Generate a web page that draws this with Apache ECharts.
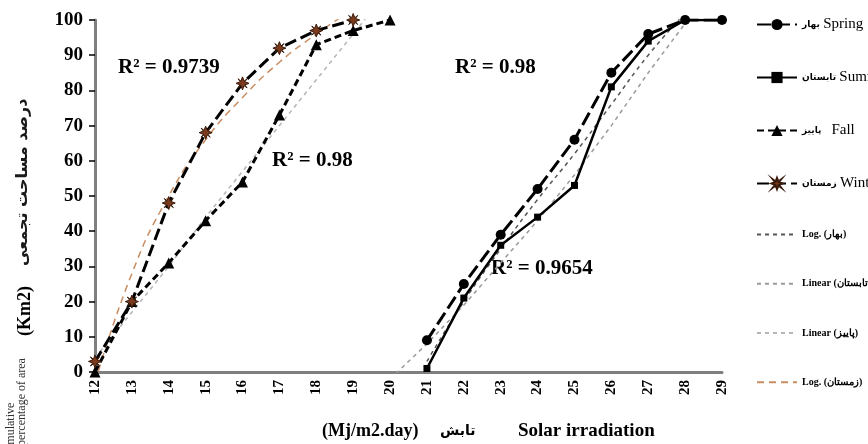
<!DOCTYPE html>
<html>
<head>
<meta charset="utf-8">
<script src="https://cdn.jsdelivr.net/npm/echarts@6/dist/echarts.min.js"></script>
<style>
  html, body { margin: 0; padding: 0; background: #fff; }
  #chart { width: 868px; height: 444px; }
</style>
</head>
<body>
<div id="chart"></div>
<script>
  // x = solar irradiation (Mj/m2.day), y = cumulative % of area
  const xTicks = [12, 13, 14, 15, 16, 17, 18, 19, 20, 21, 22, 23, 24, 25, 26, 27, 28, 29];

  const springX = [21, 22, 23, 24, 25, 26, 27, 28, 29];
  const springY = [9, 25, 39, 52, 66, 85, 96, 100, 100];
  const summerX = [21, 22, 23, 24, 25, 26, 27, 28, 29];
  const summerY = [1, 21, 36, 44, 53, 81, 94, 100, 100];
  const fallX = [12, 13, 14, 15, 16, 17, 18, 19, 20];
  const fallY = [0, 20, 31, 43, 54, 73, 93, 97, 100];
  const winterX = [12, 13, 14, 15, 16, 17, 18, 19];
  const winterY = [3, 20, 48, 68, 82, 92, 97, 100];

  // trend lines
  const logSpringX = [21, 22, 23, 24, 25, 26, 27, 28];
  const logSpringY = [3, 20, 35, 49, 62, 76, 90, 102];
  const linSummerX = [20, 21, 22, 23, 24, 25, 26, 27, 28];
  const linSummerY = [-2, 8, 19, 31, 43, 56, 70, 85, 99];
  const linFallX = [12, 13, 14, 15, 16, 17, 18, 19, 20];
  const linFallY = [4, 17, 30, 44, 57, 70, 83, 96, 109];
  const logWinterX = [12, 13, 14, 15, 16, 17, 18, 19];
  const logWinterY = [-3, 28, 50, 66, 78, 88, 96, 103];

  const r2Labels = ['R² = 0.9739', 'R² = 0.98', 'R² = 0.98', 'R² = 0.9654'];

  function pairs(xs, ys) {
    return xs.map(function (x, i) { return [x, ys[i]]; });
  }

  const serif = '"Liberation Serif", "DejaVu Serif", serif';
  const brown = '#7b3a1c';

  const legendText = {
    'Spring': '{fa|بهار} {en|Spring}',
    'Summer': '{fa|تابستان} {en|Summer}',
    'Fall': '{fa|پاییز}   {en|Fall}',
    'Winter': '{fa|زمستان} {en|Winter}',
    'LogSpring': '{tr|Log. (بهار)}',
    'LinSummer': '{tr|Linear (تابستان)}',
    'LinFall': '{tr|Linear (پاییز)}',
    'LogWinter': '{tr|Log. (زمستان)}'
  };

  const myChart = echarts.init(document.getElementById('chart'));
  let option = {
    backgroundColor: '#ffffff',
    animation: false,
    grid: { left: 95, right: 146, top: 20, bottom: 72 },
    legend: {
      orient: 'vertical',
      left: 751,
      top: 12,
      itemWidth: 40,
      itemHeight: 14,
      itemGap: 38,
      data: [
        'Spring', 'Summer', 'Fall', 'Winter',
        { name: 'LogSpring', itemStyle: { opacity: 0 } },
        { name: 'LinSummer', itemStyle: { opacity: 0 } },
        { name: 'LinFall', itemStyle: { opacity: 0 } },
        { name: 'LogWinter', itemStyle: { opacity: 0 } }
      ],
      formatter: function (name) { return legendText[name]; },
      textStyle: {
        color: '#000',
        rich: {
          fa: { fontSize: 9, fontWeight: 'bold', fontFamily: '"DejaVu Sans", sans-serif', color: '#000' },
          en: { fontSize: 15, fontFamily: serif, color: '#000' },
          tr: { fontSize: 10, fontWeight: 'bold', fontFamily: serif, color: '#000' }
        }
      }
    },
    xAxis: {
      type: 'value',
      min: 12,
      max: 29,
      interval: 1,
      splitLine: { show: false },
      axisLine: { onZero: false, lineStyle: { color: '#7f7f7f', width: 3 } },
      axisTick: { show: false },
      axisLabel: {
        rotate: 90,
        margin: 8,
        color: '#000',
        fontFamily: serif,
        fontWeight: 'bold',
        fontSize: 15,
        formatter: function (v) { return xTicks.indexOf(v) >= 0 ? String(v) : ''; }
      }
    },
    yAxis: {
      type: 'value',
      min: 0,
      max: 100,
      interval: 10,
      splitLine: { show: false },
      axisLine: { show: true, lineStyle: { color: '#7f7f7f', width: 3 } },
      axisTick: { show: true, length: 6, lineStyle: { color: '#000', width: 1.5 } },
      axisLabel: {
        margin: 12,
        color: '#000',
        fontFamily: serif,
        fontWeight: 'bold',
        fontSize: 19
      }
    },
    graphic: [
      { type: 'text', x: 16, y: 336, rotation: Math.PI / 2,
        style: { text: '(Km2)', font: 'bold 18px ' + serif, fill: '#000' } },
      { type: 'text', x: 15, y: 266, rotation: Math.PI / 2,
        style: { text: 'درصد مساحت تجمعی', font: 'bold 16px "DejaVu Sans", sans-serif', fill: '#1a1a1a' } },
      { type: 'text', x: 5, y: 456, rotation: Math.PI / 2,
        style: { text: 'cumulative', font: '12px ' + serif, fill: '#333' } },
      { type: 'text', x: 16, y: 446, rotation: Math.PI / 2,
        style: { text: 'percentage of area', font: '12px ' + serif, fill: '#333' } },
      { type: 'text', x: 322, y: 422,
        style: { text: '(Mj/m2.day)', font: 'bold 18px ' + serif, fill: '#000' } },
      { type: 'text', x: 440, y: 424,
        style: { text: 'تابش', font: 'bold 14px "DejaVu Sans", sans-serif', fill: '#000' } },
      { type: 'text', x: 518, y: 422,
        style: { text: 'Solar irradiation', font: 'bold 19px ' + serif, fill: '#000' } },
      { type: 'text', x: 118, y: 57,
        style: { text: r2Labels[0], font: 'bold 21px ' + serif, fill: '#000' } },
      { type: 'text', x: 272, y: 150,
        style: { text: r2Labels[1], font: 'bold 21px ' + serif, fill: '#000' } },
      { type: 'text', x: 455, y: 57,
        style: { text: r2Labels[2], font: 'bold 21px ' + serif, fill: '#000' } },
      { type: 'text', x: 491, y: 258,
        style: { text: r2Labels[3], font: 'bold 21px ' + serif, fill: '#000' } }
    ],
    series: [
      {
        name: 'LinFall', type: 'line', data: pairs(linFallX, linFallY),
        symbol: 'none', z: 1,
        itemStyle: { color: '#b5b5b5' },
        lineStyle: { color: '#b5b5b5', width: 1.5, type: [4, 4] }
      },
      {
        name: 'LogWinter', type: 'line', smooth: true, data: pairs(logWinterX, logWinterY),
        symbol: 'none', z: 1,
        itemStyle: { color: '#c98d62' },
        lineStyle: { color: '#c98d62', width: 1.5, type: [7, 5] }
      },
      {
        name: 'LogSpring', type: 'line', smooth: true, data: pairs(logSpringX, logSpringY),
        symbol: 'none', z: 1,
        itemStyle: { color: '#555' },
        lineStyle: { color: '#555', width: 1.5, type: [4, 4] }
      },
      {
        name: 'LinSummer', type: 'line', data: pairs(linSummerX, linSummerY),
        symbol: 'none', z: 1,
        itemStyle: { color: '#9a9a9a' },
        lineStyle: { color: '#9a9a9a', width: 1.5, type: [4, 4] }
      },
      {
        name: 'Spring', type: 'line', data: pairs(springX, springY),
        symbol: 'circle', symbolSize: 10,
        itemStyle: { color: '#000' },
        lineStyle: { color: '#000', width: 3, type: [14, 5] }
      },
      {
        name: 'Summer', type: 'line', data: pairs(summerX, summerY),
        symbol: 'rect', symbolSize: 7,
        itemStyle: { color: '#000' },
        lineStyle: { color: '#000', width: 2.5 }
      },
      {
        name: 'Fall', type: 'line', data: pairs(fallX, fallY),
        symbol: 'triangle', symbolSize: 11,
        itemStyle: { color: '#000' },
        lineStyle: { color: '#000', width: 3, type: [7, 4] }
      },
      {
        name: 'Winter', type: 'line', data: pairs(winterX, winterY),
        symbol: 'path://M0,-10 L2.5,-3.5 L7,-7 L3.5,-2.5 L10,0 L3.5,2.5 L7,7 L2.5,3.5 L0,10 L-2.5,3.5 L-7,7 L-3.5,2.5 L-10,0 L-3.5,-2.5 L-7,-7 L-2.5,-3.5 Z',
        symbolSize: 13,
        itemStyle: { color: brown, borderColor: '#3a1a0a', borderWidth: 1 },
        lineStyle: { color: '#000', width: 3, type: [12, 5] }
      }
    ]
  };
  myChart.setOption(option, true);
</script>
</body>
</html>
